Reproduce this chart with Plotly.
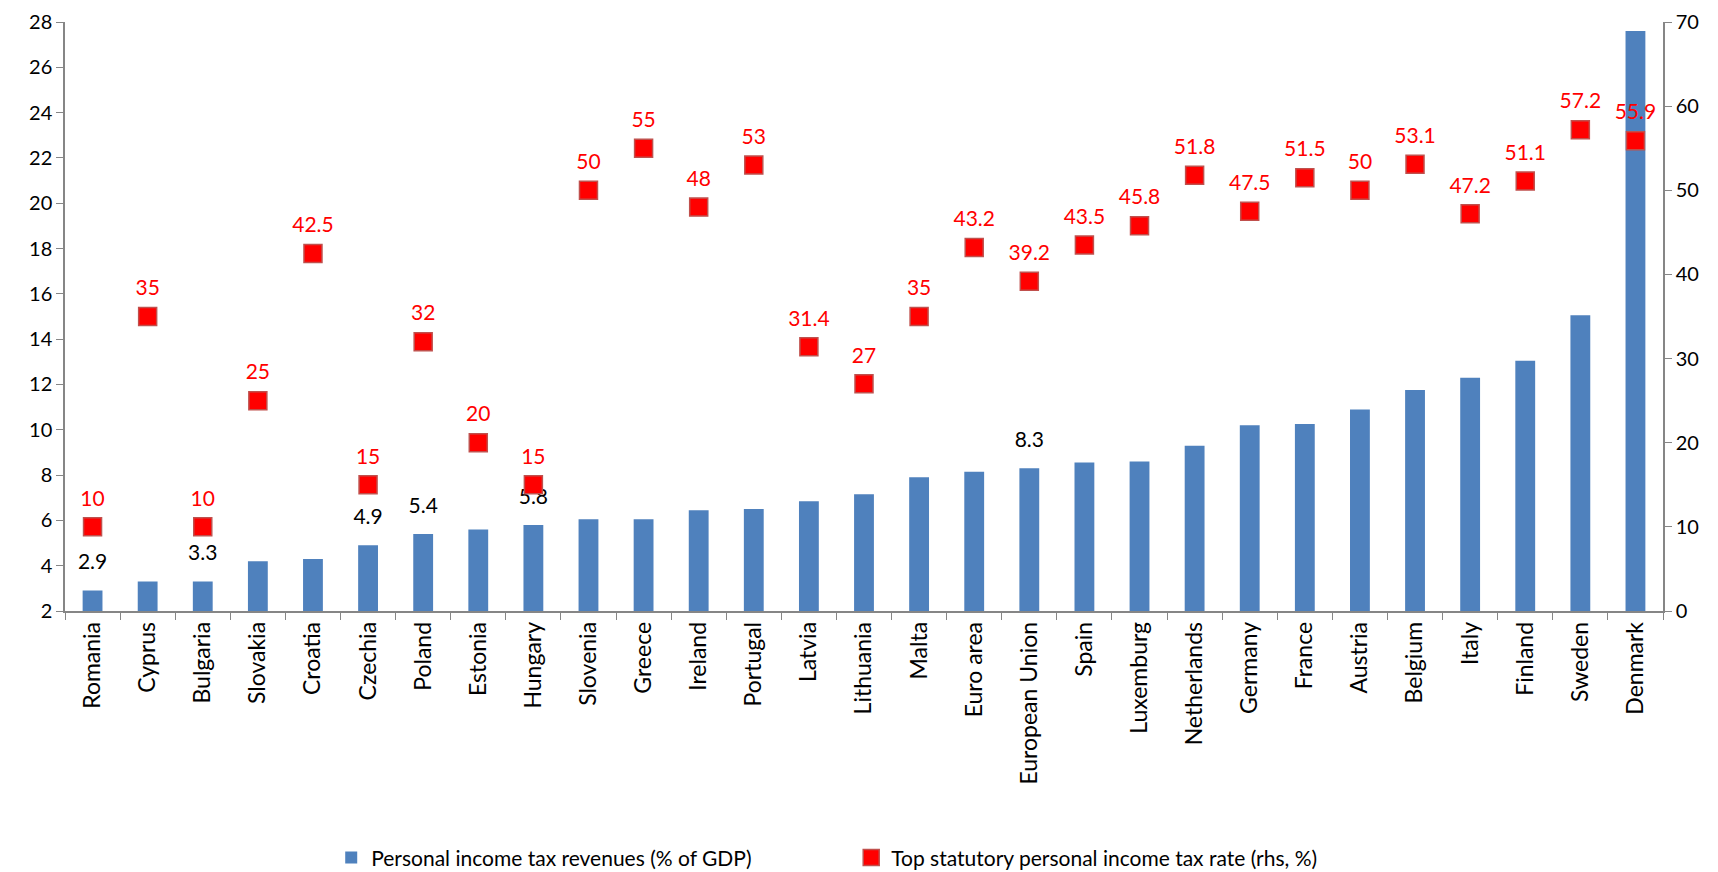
import plotly.graph_objects as go

countries = ["Romania", "Cyprus", "Bulgaria", "Slovakia", "Croatia", "Czechia", "Poland",
             "Estonia", "Hungary", "Slovenia", "Greece", "Ireland", "Portugal", "Latvia",
             "Lithuania", "Malta", "Euro area", "European Union", "Spain", "Luxemburg",
             "Netherlands", "Germany", "France", "Austria", "Belgium", "Italy", "Finland",
             "Sweden", "Denmark"]

# personal income tax revenues, % of GDP (left axis)
revenues = [2.9, 3.3, 3.3, 4.2, 4.3, 4.9, 5.4, 5.6, 5.8, 6.05, 6.05, 6.45, 6.5, 6.85,
            7.15, 7.9, 8.15, 8.3, 8.55, 8.6, 9.3, 10.2, 10.25, 10.9, 11.75, 12.3, 13.05,
            15.05, 27.6]

# labels shown only for some bars
revenue_labels = ["2.9", "", "3.3", "", "", "4.9", "5.4", "", "5.8", "", "", "", "", "",
                  "", "", "", "8.3", "", "", "", "", "", "", "", "", "", "", ""]

# top statutory PIT rate, % (right axis)
top_rate = [10, 35, 10, 25, 42.5, 15, 32, 20, 15, 50, 55, 48, 53, 31.4, 27, 35, 43.2,
            39.2, 43.5, 45.8, 51.8, 47.5, 51.5, 50, 53.1, 47.2, 51.1, 57.2, 55.9]

font = "Lato, 'Open Sans', sans-serif"

fig = go.Figure()

fig.add_trace(go.Bar(
    x=countries, y=revenues, name="Personal income tax revenues (% of GDP)",
    marker=dict(color="#4F81BD", line=dict(width=0)), width=0.36,
))

# bar value labels (invisible markers just to push the text up a bit)
fig.add_trace(go.Scatter(
    x=countries, y=revenues, mode="markers+text",
    marker=dict(size=24, opacity=0), text=revenue_labels, textposition="top center",
    textfont=dict(color="black", size=21, family=font),
    showlegend=False, cliponaxis=False, hoverinfo="skip",
))

fig.add_trace(go.Scatter(
    x=countries, y=top_rate, yaxis="y2", mode="markers",
    name="Top statutory personal income tax rate (rhs, %)",
    marker=dict(symbol="square", size=18, color="#FF0000",
                line=dict(color="#C0504D", width=1.5)),
    cliponaxis=False,
))

fig.add_trace(go.Scatter(
    x=countries, y=top_rate, yaxis="y2", mode="markers+text",
    marker=dict(size=24, opacity=0),
    text=[f"{v:g}" for v in top_rate], textposition="top center",
    textfont=dict(color="#FF0000", size=21, family=font),
    showlegend=False, cliponaxis=False, hoverinfo="skip",
))

axis_common = dict(showgrid=False, zeroline=False, showline=True, linecolor="#868686",
                   linewidth=1.5, ticks="outside", tickcolor="#868686", ticklen=7,
                   tickfont=dict(size=20, color="black", family=font))

fig.update_layout(
    width=1718, height=872,
    margin=dict(l=65, r=55, t=22, b=261, autoexpand=False),
    plot_bgcolor="white", paper_bgcolor="white",
    font=dict(family=font),
    xaxis=dict(**{**axis_common, "tickfont": dict(size=23, color="black", family=font)},
               tickangle=-90, tickson="boundaries", range=[-0.5, 28.5], automargin=False),
    yaxis=dict(**axis_common, range=[2, 28], dtick=2, automargin=False),
    yaxis2=dict(**axis_common, range=[0, 70], dtick=10, overlaying="y", side="right",
                automargin=False),
    legend=dict(orientation="h", x=0.492, xanchor="center", y=-0.419, yanchor="middle",
                font=dict(size=21, color="black", family=font), itemwidth=30,
                entrywidth=475, entrywidthmode="pixels"),
)

# drop the browser's default 8px body margin so the figure sits at the page corner
fig.write_html("out.html", config={"displayModeBar": False},
               post_script="document.body.style.margin='0';")
